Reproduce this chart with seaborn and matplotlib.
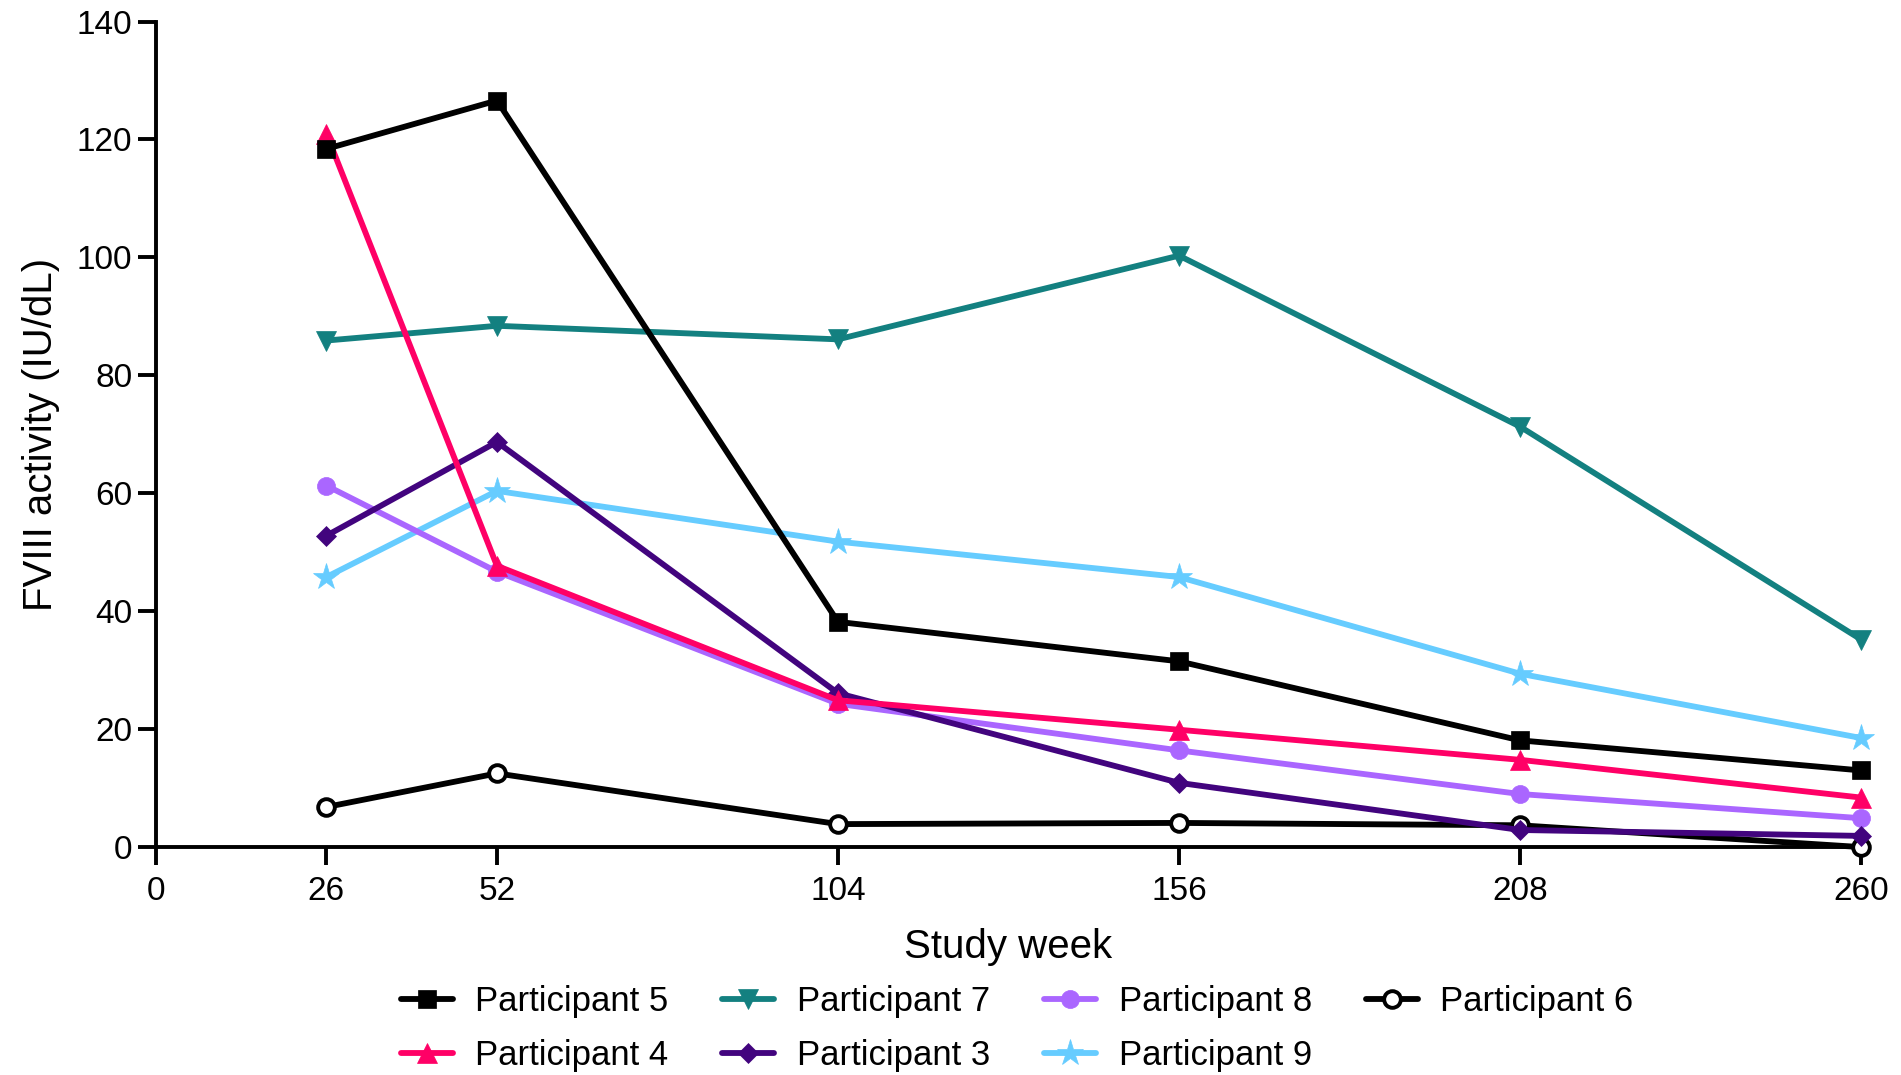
import numpy as np
import pandas as pd
import matplotlib
matplotlib.use('Agg')
import matplotlib.pyplot as plt
import seaborn as sns

# Data
weeks = [26, 52, 104, 156, 208, 260]
participants = ['Participant 5', 'Participant 4', 'Participant 7', 'Participant 3',
                'Participant 8', 'Participant 9', 'Participant 6']
p5 = [118.4, 126.6, 38.2, 31.5, 18.1, 13.0]
p4 = [121.0, 47.7, 24.9, 19.9, 14.8, 8.4]
p7 = [85.9, 88.4, 86.1, 100.3, 71.3, 35.2]
p3 = [52.8, 68.7, 26.1, 10.9, 2.9, 1.9]
p8 = [61.3, 46.7, 24.3, 16.4, 9.0, 4.9]
p9 = [45.8, 60.4, 51.8, 45.8, 29.4, 18.5]
p6 = [6.8, 12.5, 3.9, 4.1, 3.7, 0.0]
values = [p5, p4, p7, p3, p8, p9, p6]

colors = ['#000000', '#FF0066', '#138080', '#42047E', '#AA66FF', '#66CCFF', '#000000']
markers = ['s', '^', 'v', 'D', 'o', '*', 'o']
msizes = [13, 14, 14, 10, 13, 20, 12]
faces = ['#000000', '#FF0066', '#138080', '#42047E', '#AA66FF', '#66CCFF', '#FFFFFF']

sns.set_style('white')
plt.rcParams['font.family'] = ['Liberation Sans', 'DejaVu Sans']

fig = plt.figure(figsize=(19.01, 10.75), dpi=100)
ax = fig.add_axes([0.082, 0.212, 0.897, 0.768])

# draw in reverse so Participant 5 ends up on top like the original
order = [6, 5, 4, 3, 2, 1, 0]
for i in order:
    df = pd.DataFrame({'week': weeks, 'value': values[i]})
    sns.lineplot(data=df, x='week', y='value', ax=ax, color=colors[i],
                 marker=markers[i], markersize=msizes[i], markerfacecolor=faces[i],
                 markeredgecolor=colors[i], markeredgewidth=2.8 if i == 6 else 0.5,
                 linewidth=4.2, label=participants[i], clip_on=False, zorder=3)

ax.set_xlim(0, 260)
ax.set_ylim(0, 140)
ax.set_xticks([0, 26, 52, 104, 156, 208, 260])
ax.set_yticks(np.arange(0, 141, 20))
ax.tick_params(axis='both', labelsize=24, width=2.8, length=13, direction='out',
               color='black', bottom=True, left=True, labelcolor='black')
ax.tick_params(axis='x', pad=8)
ax.tick_params(axis='y', pad=4)
for s in ['top', 'right']:
    ax.spines[s].set_visible(False)
for s in ['left', 'bottom']:
    ax.spines[s].set_linewidth(2.8)
    ax.spines[s].set_color('black')
    ax.spines[s].set_zorder(2)

ax.set_xlabel('Study week', fontsize=29, labelpad=15, color='black')
ax.set_ylabel('FVIII activity (IU/dL)', fontsize=29, labelpad=12, color='black')

handles, labels = ax.get_legend_handles_labels()
hmap = dict(zip(labels, handles))
ax.legend([hmap[p] for p in participants], participants, loc='upper center',
          bbox_to_anchor=(0.505, -0.138), ncol=4, frameon=False, fontsize=25,
          handlelength=1.5, columnspacing=1.55, handletextpad=0.65, labelspacing=0.6,
          borderpad=0.2, labelcolor='black')

fig.savefig('out.png', dpi=100)
